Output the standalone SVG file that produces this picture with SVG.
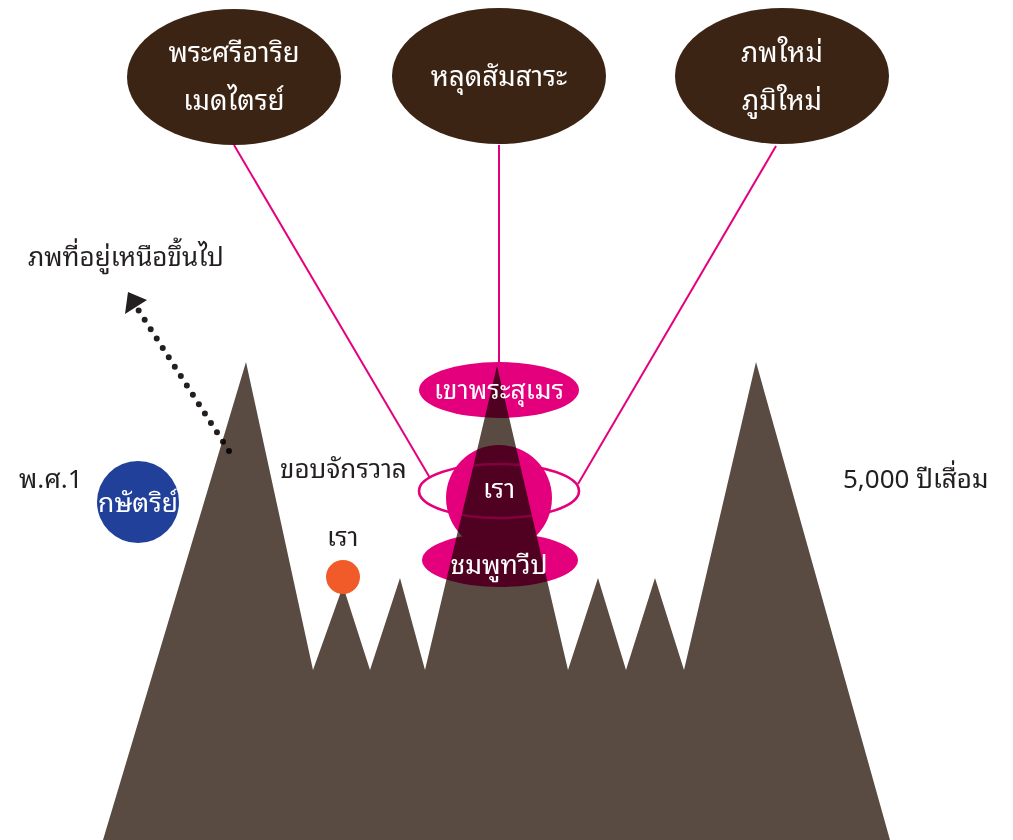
<svg xmlns="http://www.w3.org/2000/svg" width="1013" height="840" viewBox="0 0 1013 840">
<style>
.t{font-family:"Noto Sans Thai Looped","Noto Sans Thai","Noto Sans","DejaVu Sans",sans-serif;}
.dark{fill:#231f20;font-size:26px;}
.wh{fill:#ffffff;font-size:27.5px;text-anchor:middle;}
.wp{fill:#ffffff;font-size:26.5px;text-anchor:middle;}
.top{fill:#3c2415;}
.pink{fill:#e4007c;}
.conn{stroke:#e4007c;stroke-width:2;fill:none;}
</style>
<rect width="1013" height="840" fill="#ffffff"/>
<g id="connectors">
<line class="conn" x1="234" y1="145" x2="430" y2="478"/>
<line class="conn" x1="499" y1="145" x2="499" y2="366"/>
<line class="conn" x1="776" y1="146" x2="578" y2="484"/>
<line x1="229" y1="451" x2="138.5" y2="310.2" stroke="#231f20" stroke-width="6" stroke-linecap="round" stroke-dasharray="0 11.14"/>
<polygon points="125,314 128,292 147,300" fill="#231f20"/>
</g>
<g id="node-maitreya"><ellipse class="top" cx="234" cy="77" rx="107" ry="68"/><text class="t wh" x="234" y="62">พระศรีอาริย</text><text class="t wh" x="234" y="110">เมดไตรย์</text></g>
<g id="node-samsara"><ellipse class="top" cx="499" cy="76" rx="107" ry="68"/><text class="t wh" x="499" y="86">หลุดสัมสาระ</text></g>
<g id="node-newlife"><ellipse class="top" cx="782" cy="76" rx="107" ry="68"/><text class="t wh" x="782" y="62">ภพใหม่</text><text class="t wh" x="782" y="110">ภูมิใหม่</text></g>
<g id="pink-shapes">
<ellipse class="pink" cx="499" cy="390" rx="80" ry="28"/>
<circle class="pink" cx="499" cy="498" r="53"/>
<ellipse cx="499" cy="491" rx="80" ry="27" fill="none" stroke="#e4007c" stroke-width="2.5"/>
<ellipse class="pink" cx="500" cy="560" rx="78" ry="27"/>
</g>
<g id="mountains" style="mix-blend-mode:multiply">
<polygon fill="#594a42" points="103,840 246,362 313,670 343,586 370,670 400,578 425,670 497,366 568,670 598,578 626,670 655,578 684,670 756,362 890,840"/>
</g>
<ellipse cx="499" cy="491" rx="80" ry="27" fill="none" stroke="#e4007c" stroke-width="2.5" opacity="0.35"/>
<g id="node-king"><circle cx="138" cy="502" r="41" fill="#21409a"/><text class="t wp" x="138" y="512">กษัตริย์</text></g>
<g id="node-us-small"><circle cx="343" cy="577" r="17" fill="#f15a29"/><text class="t dark" x="327" y="546">เรา</text></g>
<g id="labels">
<text class="t dark" x="28" y="266">ภพที่อยู่เหนือขึ้นไป</text>
<text class="t dark" x="19" y="488">พ.ศ.1</text>
<text class="t dark" x="280" y="478">ขอบจักรวาล</text>
<text class="t dark" x="843" y="488">5,000 ปีเสื่อม</text>
<text class="t wp" x="499" y="399">เขาพระสุเมร</text>
<text class="t wp" x="499" y="498">เรา</text>
<text class="t wp" x="499" y="574">ชมพูทวีป</text>
</g>
</svg>
